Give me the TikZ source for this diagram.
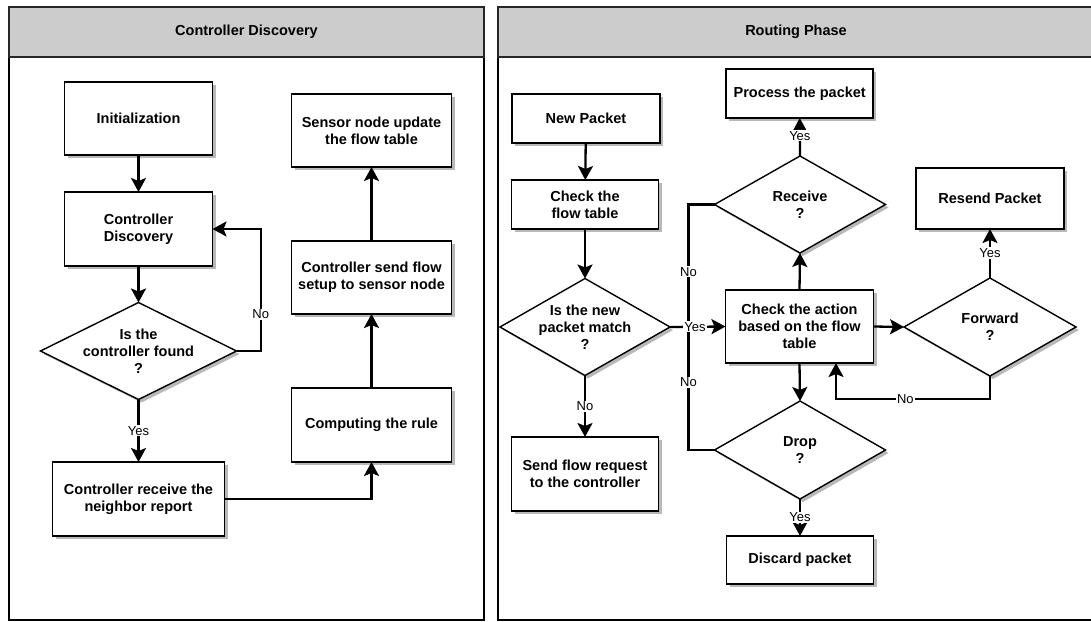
\documentclass[tikz,border=0pt]{standalone}
\usepackage{fontspec}
\setmainfont{Liberation Sans}
\usetikzlibrary{shapes.geometric,arrows.meta,shadows}

\begin{document}
\begin{tikzpicture}[x=1pt,y=-1pt,
  shade/.style={drop shadow={shadow xshift=3pt,shadow yshift=-3pt,fill=black,opacity=0.28}},
  box/.style 2 args={rectangle,draw=black,line width=1.5pt,fill=white,shade,
    minimum width=#1,minimum height=#2,inner sep=0pt,outer sep=0pt,
    align=center,font=\bfseries\fontsize{14.5}{17}\selectfont},
  dia/.style 2 args={diamond,draw=black,line width=1.4pt,fill=white,shade,
    minimum width=#1,minimum height=#2,inner sep=0pt,outer sep=0pt},
  dtxt/.style={align=center,inner sep=0pt,font=\bfseries\fontsize{14.5}{17}\selectfont},
  title/.style={font=\bfseries\fontsize{14.5}{17}\selectfont},
  panel/.style={draw=black,line width=1.8pt,fill=white},
  header/.style={draw=black!85,line width=1.8pt,fill=black!20},
  arr/.style={line width=2.3pt,-{Stealth[length=14pt,width=15pt,inset=3pt]}},
  link/.style={line width=2.3pt},
  lbl/.style={fill=white,inner sep=1pt,font=\fontsize{13}{15}\selectfont}
]
\useasboundingbox (0,0) rectangle (1091,621);

% ---- swim lanes ----
\path[panel]  (9,7) rectangle (484,620);
\path[header] (9,7) rectangle (484,57);
\path[panel]  (498,7) rectangle (1095,620);
\path[header] (498,7) rectangle (1095,57);
\node[title] (lane1) at (246.5,32) {Controller Discovery};
\node[title] (lane2) at (796,32) {Routing Phase};

% ---- controller discovery lane ----
\node[box={148pt}{73pt}] (init) at (138.5,118.5) {Initialization};
\node[box={148pt}{74pt}] (cdisc) at (138.5,229) {Controller\\Discovery};
\node[dia={196pt}{97pt}] (found) at (138.5,351) {};
\node[dtxt] (foundt) at (found) {Is the\\controller found\\?};
\node[box={172pt}{74pt}] (recv) at (138.5,499) {Controller receive the\\neighbor report};
\node[box={160pt}{74pt}] (comp) at (371.5,425) {Computing the rule};
\node[box={160pt}{73pt}] (setup) at (371.5,277.5) {Controller send flow\\setup to sensor node};
\node[box={160pt}{73pt}] (upd) at (371.5,130.5) {Sensor node update\\the flow table};

\coordinate (kno) at (260.7,351);
\draw[arr] (init) -- (cdisc);
\draw[arr] (cdisc) -- (found);
\draw[arr] (found.east) -- (kno) -- node[lbl,pos=0.3]{No} (kno |- cdisc.east) -- (cdisc.east);
\draw[arr] (found.south) -- node[lbl,pos=0.5]{Yes} (recv.north);
\draw[arr] (recv.east) -| (comp.south);
\draw[arr] (comp) -- (setup);
\draw[arr] (setup) -- (upd);

% ---- routing lane ----
\node[box={148pt}{49pt}] (newp) at (586,118.5) {New Packet};
\node[box={147pt}{49pt}] (chk) at (585,204.5) {Check the\\flow table};
\node[dia={170pt}{97pt}] (match) at (585,327) {};
\node[dtxt] (matcht) at (match) {Is the new\\packet match\\?};
\node[box={147pt}{74pt}] (req) at (585,474) {Send flow request\\to the controller};
\node[box={148pt}{73pt}] (act) at (799.5,326.5) {Check the action\\based on the flow\\table};
\node[dia={171pt}{97pt}] (rcv) at (800,204.5) {};
\node[dtxt] (rcvt) at (rcv) {Receive\\?};
\node[box={147pt}{49pt}] (proc) at (799.7,93.5) {Process the packet};
\node[dia={171pt}{98pt}] (drop) at (800,450) {};
\node[dtxt] (dropt) at (drop) {Drop\\?};
\node[box={147pt}{48pt}] (disc) at (800,560) {Discard packet};
\node[dia={172pt}{98pt}] (fwd) at (990,327) {};
\node[dtxt] (fwdt) at (fwd) {Forward\\?};
\node[box={148pt}{61pt}] (resend) at (990,198.5) {Resend Packet};

\coordinate (join) at (688.5,327);
\coordinate (kfwd) at (836,399);

\draw[arr] (newp) -- (chk);
\draw[arr] (chk) -- (match);
\draw[arr] (match.south) -- node[lbl,pos=0.5]{No} (req.north);
\draw[link] (rcv.west) -- (rcv.west -| join) -- node[lbl,pos=0.55]{No} (join);
\draw[link] (drop.west) -- (drop.west -| join) -- node[lbl,pos=0.55]{No} (join);
\draw[arr] (match.east) -- node[lbl,pos=0.45]{Yes} (act.west);
\draw[arr] (act.north) -- (rcv.south);
\draw[arr] (rcv.north) -- node[lbl,pos=0.53]{Yes} (proc.south);
\draw[arr] (act.south) -- (drop.north);
\draw[arr] (drop.south) -- node[lbl,pos=0.49]{Yes} (disc.north);
\draw[arr] (act.east) -- (fwd.west);
\draw[arr] (fwd.north) -- node[lbl,pos=0.51]{Yes} (resend.south);
\draw[arr] (fwd.south) -- (fwd.south |- kfwd) -- node[lbl,pos=0.55]{No} (kfwd) -- (kfwd |- act.south);
\end{tikzpicture}
\end{document}
